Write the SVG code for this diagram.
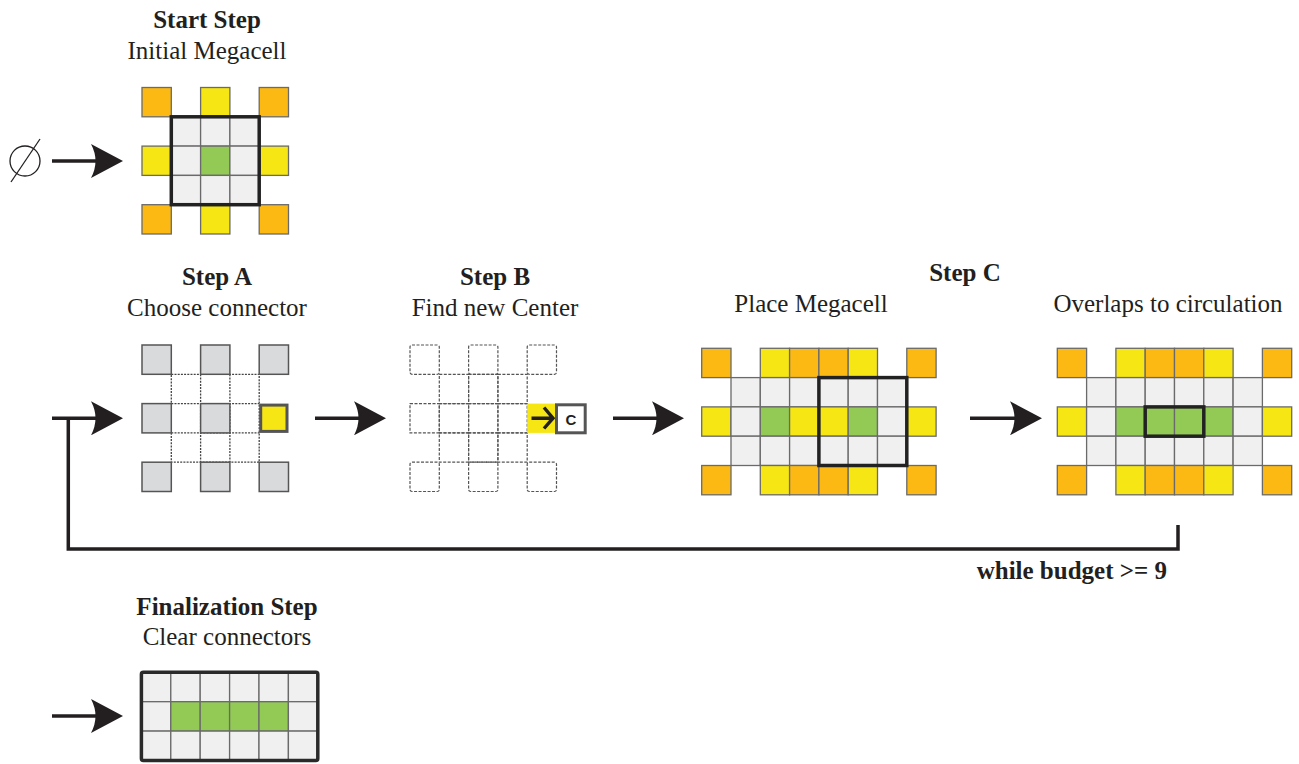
<svg xmlns="http://www.w3.org/2000/svg" width="1299" height="764" viewBox="0 0 1299 764">
<style>
.o{fill:#FDB913;stroke:#6a6a6a;stroke-width:1.3}
.y{fill:#F5E614;stroke:#6a6a6a;stroke-width:1.3}
.g{fill:#F0F0F0;stroke:#6a6a6a;stroke-width:1.3}
.gr{fill:#93C955;stroke:#6a6a6a;stroke-width:1.3}
.d{fill:#D9DADC;stroke:#555;stroke-width:1.5}
.thick{fill:none;stroke:#222;stroke-width:3.5}
.dot{fill:none;stroke:#444;stroke-width:1.3;stroke-dasharray:2 1.2}
.dash{fill:none;stroke:#555;stroke-width:1.2;stroke-dasharray:3 1.5}
.t{font-family:"Liberation Serif","Times New Roman",serif;font-size:25px;fill:#231f20;text-anchor:middle}
.b{font-weight:bold}
.conn{fill:none;stroke:#231f20;stroke-width:3.5}
</style>
<defs>
<marker id="ah" markerUnits="userSpaceOnUse" viewBox="0 0 32 34" markerWidth="32" markerHeight="34" refX="19" refY="17" orient="auto">
<path d="M32,17 L0,0 Q9,17 0,34 Z" fill="#231f20"/>
</marker>
</defs>

<g id="labels">
<text class="t b" x="207" y="28">Start Step</text>
<text class="t" x="207" y="59">Initial Megacell</text>
<text class="t b" x="217" y="285">Step A</text>
<text class="t" x="217" y="316">Choose connector</text>
<text class="t b" x="495" y="285">Step B</text>
<text class="t" x="495" y="316">Find new Center</text>
<text class="t b" x="965" y="281">Step C</text>
<text class="t" x="811" y="312">Place Megacell</text>
<text class="t" x="1168" y="312">Overlaps to circulation</text>
<text class="t b" x="227" y="615">Finalization Step</text>
<text class="t" x="227" y="645">Clear connectors</text>
<text class="t b" x="1167" y="579" style="text-anchor:end">while budget &gt;= 9</text>
</g>

<g id="emptyset" fill="none" stroke="#231f20" stroke-width="1.3">
<circle cx="25" cy="161" r="15"/>
<line x1="11" y1="182" x2="40" y2="139"/>
</g>

<g id="start">
<rect class="o" x="142" y="87.5" width="29.3" height="29.3"/>
<rect class="y" x="200.6" y="87.5" width="29.3" height="29.3"/>
<rect class="o" x="259.2" y="87.5" width="29.3" height="29.3"/>
<rect class="g" x="171.3" y="116.8" width="29.3" height="29.3"/>
<rect class="g" x="200.6" y="116.8" width="29.3" height="29.3"/>
<rect class="g" x="229.9" y="116.8" width="29.3" height="29.3"/>
<rect class="y" x="142" y="146.1" width="29.3" height="29.3"/>
<rect class="g" x="171.3" y="146.1" width="29.3" height="29.3"/>
<rect class="gr" x="200.6" y="146.1" width="29.3" height="29.3"/>
<rect class="g" x="229.9" y="146.1" width="29.3" height="29.3"/>
<rect class="y" x="259.2" y="146.1" width="29.3" height="29.3"/>
<rect class="g" x="171.3" y="175.4" width="29.3" height="29.3"/>
<rect class="g" x="200.6" y="175.4" width="29.3" height="29.3"/>
<rect class="g" x="229.9" y="175.4" width="29.3" height="29.3"/>
<rect class="o" x="142" y="204.7" width="29.3" height="29.3"/>
<rect class="y" x="200.6" y="204.7" width="29.3" height="29.3"/>
<rect class="o" x="259.2" y="204.7" width="29.3" height="29.3"/>
<rect class="thick" x="171.3" y="116.8" width="87.9" height="87.9"/>
</g>

<g id="stepA">
<rect class="dot" x="171.3" y="374.3" width="87.9" height="87.9"/>
<path class="dot" d="M200.6,374.3V462.2M229.9,374.3V462.2M171.3,403.6H259.2M171.3,432.9H259.2"/>
<rect class="d" x="142" y="345" width="29.3" height="29.3"/>
<rect class="d" x="200.6" y="345" width="29.3" height="29.3"/>
<rect class="d" x="259.2" y="345" width="29.3" height="29.3"/>
<rect class="d" x="142" y="403.6" width="29.3" height="29.3"/>
<rect class="d" x="200.6" y="403.6" width="29.3" height="29.3"/>
<rect class="d" x="142" y="462.2" width="29.3" height="29.3"/>
<rect class="d" x="200.6" y="462.2" width="29.3" height="29.3"/>
<rect class="d" x="259.2" y="462.2" width="29.3" height="29.3"/>
<rect x="260.7" y="405.1" width="26.3" height="26.3" fill="#F5E614" stroke="#555" stroke-width="3"/>
</g>

<g id="stepB">
<rect class="dash" x="410" y="345" width="29.3" height="29.3" rx="2"/>
<rect class="dash" x="468.6" y="345" width="29.3" height="29.3" rx="2"/>
<rect class="dash" x="527.2" y="345" width="29.3" height="29.3" rx="2"/>
<rect class="dash" x="439.3" y="374.3" width="29.3" height="29.3"/>
<rect class="dash" x="468.6" y="374.3" width="29.3" height="29.3"/>
<rect class="dash" x="497.9" y="374.3" width="29.3" height="29.3"/>
<rect class="dash" x="410" y="403.6" width="29.3" height="29.3"/>
<rect class="dash" x="439.3" y="403.6" width="29.3" height="29.3"/>
<rect class="dash" x="468.6" y="403.6" width="29.3" height="29.3"/>
<rect class="dash" x="497.9" y="403.6" width="29.3" height="29.3"/>
<rect class="dash" x="439.3" y="432.9" width="29.3" height="29.3"/>
<rect class="dash" x="468.6" y="432.9" width="29.3" height="29.3"/>
<rect class="dash" x="497.9" y="432.9" width="29.3" height="29.3"/>
<rect class="dash" x="410" y="462.2" width="29.3" height="29.3" rx="2"/>
<rect class="dash" x="468.6" y="462.2" width="29.3" height="29.3" rx="2"/>
<rect class="dash" x="527.2" y="462.2" width="29.3" height="29.3" rx="2"/>
<rect x="527.2" y="403.6" width="28.5" height="29.3" fill="#F5E614"/>
<path d="M531.5,418.2H551M544,407.5L553,418.2L544,428.5" fill="none" stroke="#231f20" stroke-width="3.4"/>
<rect x="556.5" y="404.8" width="28.7" height="28" fill="#fff" stroke="#555" stroke-width="3"/>
<text x="570.8" y="424.5" font-family="Liberation Sans, Arial, sans-serif" font-size="15" font-weight="bold" text-anchor="middle" fill="#231f20">C</text>
</g>

<g id="placeMegacell">
<rect class="o" x="701.7" y="348.3" width="29.3" height="29.3"/>
<rect class="y" x="760.3" y="348.3" width="29.3" height="29.3"/>
<rect class="o" x="789.6" y="348.3" width="29.3" height="29.3"/>
<rect class="o" x="818.9" y="348.3" width="29.3" height="29.3"/>
<rect class="y" x="848.2" y="348.3" width="29.3" height="29.3"/>
<rect class="o" x="906.8" y="348.3" width="29.3" height="29.3"/>
<rect class="g" x="731" y="377.6" width="29.3" height="29.3"/>
<rect class="g" x="760.3" y="377.6" width="29.3" height="29.3"/>
<rect class="g" x="789.6" y="377.6" width="29.3" height="29.3"/>
<rect class="g" x="818.9" y="377.6" width="29.3" height="29.3"/>
<rect class="g" x="848.2" y="377.6" width="29.3" height="29.3"/>
<rect class="g" x="877.5" y="377.6" width="29.3" height="29.3"/>
<rect class="y" x="701.7" y="406.9" width="29.3" height="29.3"/>
<rect class="g" x="731" y="406.9" width="29.3" height="29.3"/>
<rect class="gr" x="760.3" y="406.9" width="29.3" height="29.3"/>
<rect class="y" x="789.6" y="406.9" width="29.3" height="29.3"/>
<rect class="y" x="818.9" y="406.9" width="29.3" height="29.3"/>
<rect class="gr" x="848.2" y="406.9" width="29.3" height="29.3"/>
<rect class="g" x="877.5" y="406.9" width="29.3" height="29.3"/>
<rect class="y" x="906.8" y="406.9" width="29.3" height="29.3"/>
<rect class="g" x="731" y="436.2" width="29.3" height="29.3"/>
<rect class="g" x="760.3" y="436.2" width="29.3" height="29.3"/>
<rect class="g" x="789.6" y="436.2" width="29.3" height="29.3"/>
<rect class="g" x="818.9" y="436.2" width="29.3" height="29.3"/>
<rect class="g" x="848.2" y="436.2" width="29.3" height="29.3"/>
<rect class="g" x="877.5" y="436.2" width="29.3" height="29.3"/>
<rect class="o" x="701.7" y="465.5" width="29.3" height="29.3"/>
<rect class="y" x="760.3" y="465.5" width="29.3" height="29.3"/>
<rect class="o" x="789.6" y="465.5" width="29.3" height="29.3"/>
<rect class="o" x="818.9" y="465.5" width="29.3" height="29.3"/>
<rect class="y" x="848.2" y="465.5" width="29.3" height="29.3"/>
<rect class="o" x="906.8" y="465.5" width="29.3" height="29.3"/>
<rect class="thick" x="818.9" y="377.6" width="87.9" height="87.9"/>
</g>

<g id="overlaps">
<rect class="o" x="1057.3" y="348.3" width="29.3" height="29.3"/>
<rect class="y" x="1115.9" y="348.3" width="29.3" height="29.3"/>
<rect class="o" x="1145.2" y="348.3" width="29.3" height="29.3"/>
<rect class="o" x="1174.5" y="348.3" width="29.3" height="29.3"/>
<rect class="y" x="1203.8" y="348.3" width="29.3" height="29.3"/>
<rect class="o" x="1262.4" y="348.3" width="29.3" height="29.3"/>
<rect class="g" x="1086.6" y="377.6" width="29.3" height="29.3"/>
<rect class="g" x="1115.9" y="377.6" width="29.3" height="29.3"/>
<rect class="g" x="1145.2" y="377.6" width="29.3" height="29.3"/>
<rect class="g" x="1174.5" y="377.6" width="29.3" height="29.3"/>
<rect class="g" x="1203.8" y="377.6" width="29.3" height="29.3"/>
<rect class="g" x="1233.1" y="377.6" width="29.3" height="29.3"/>
<rect class="y" x="1057.3" y="406.9" width="29.3" height="29.3"/>
<rect class="g" x="1086.6" y="406.9" width="29.3" height="29.3"/>
<rect class="gr" x="1115.9" y="406.9" width="29.3" height="29.3"/>
<rect class="gr" x="1145.2" y="406.9" width="29.3" height="29.3"/>
<rect class="gr" x="1174.5" y="406.9" width="29.3" height="29.3"/>
<rect class="gr" x="1203.8" y="406.9" width="29.3" height="29.3"/>
<rect class="g" x="1233.1" y="406.9" width="29.3" height="29.3"/>
<rect class="y" x="1262.4" y="406.9" width="29.3" height="29.3"/>
<rect class="g" x="1086.6" y="436.2" width="29.3" height="29.3"/>
<rect class="g" x="1115.9" y="436.2" width="29.3" height="29.3"/>
<rect class="g" x="1145.2" y="436.2" width="29.3" height="29.3"/>
<rect class="g" x="1174.5" y="436.2" width="29.3" height="29.3"/>
<rect class="g" x="1203.8" y="436.2" width="29.3" height="29.3"/>
<rect class="g" x="1233.1" y="436.2" width="29.3" height="29.3"/>
<rect class="o" x="1057.3" y="465.5" width="29.3" height="29.3"/>
<rect class="y" x="1115.9" y="465.5" width="29.3" height="29.3"/>
<rect class="o" x="1145.2" y="465.5" width="29.3" height="29.3"/>
<rect class="o" x="1174.5" y="465.5" width="29.3" height="29.3"/>
<rect class="y" x="1203.8" y="465.5" width="29.3" height="29.3"/>
<rect class="o" x="1262.4" y="465.5" width="29.3" height="29.3"/>
<rect class="thick" x="1145.2" y="406.9" width="58.6" height="29.3"/>
</g>

<g id="finalization">
<rect class="g" x="141.4" y="672.3" width="29.4" height="29.4"/>
<rect class="g" x="170.8" y="672.3" width="29.4" height="29.4"/>
<rect class="g" x="200.2" y="672.3" width="29.4" height="29.4"/>
<rect class="g" x="229.6" y="672.3" width="29.4" height="29.4"/>
<rect class="g" x="259" y="672.3" width="29.4" height="29.4"/>
<rect class="g" x="288.4" y="672.3" width="29.4" height="29.4"/>
<rect class="g" x="141.4" y="701.7" width="29.4" height="29.4"/>
<rect class="gr" x="170.8" y="701.7" width="29.4" height="29.4"/>
<rect class="gr" x="200.2" y="701.7" width="29.4" height="29.4"/>
<rect class="gr" x="229.6" y="701.7" width="29.4" height="29.4"/>
<rect class="gr" x="259" y="701.7" width="29.4" height="29.4"/>
<rect class="g" x="288.4" y="701.7" width="29.4" height="29.4"/>
<rect class="g" x="141.4" y="731.1" width="29.4" height="29.4"/>
<rect class="g" x="170.8" y="731.1" width="29.4" height="29.4"/>
<rect class="g" x="200.2" y="731.1" width="29.4" height="29.4"/>
<rect class="g" x="229.6" y="731.1" width="29.4" height="29.4"/>
<rect class="g" x="259" y="731.1" width="29.4" height="29.4"/>
<rect class="g" x="288.4" y="731.1" width="29.4" height="29.4"/>
<rect x="141.4" y="672.3" width="176.4" height="88.2" rx="2" fill="none" stroke="#2a2a2a" stroke-width="3.5"/>
</g>

<g id="connectors">
<line class="conn" x1="52" y1="161" x2="110" y2="161" marker-end="url(#ah)"/>
<line class="conn" x1="52" y1="418.3" x2="110" y2="418.3" marker-end="url(#ah)"/>
<line class="conn" x1="315" y1="418.3" x2="373" y2="418.3" marker-end="url(#ah)"/>
<line class="conn" x1="613" y1="418.3" x2="671" y2="418.3" marker-end="url(#ah)"/>
<line class="conn" x1="970" y1="418.3" x2="1029" y2="418.3" marker-end="url(#ah)"/>
<line class="conn" x1="52" y1="716" x2="110" y2="716" marker-end="url(#ah)"/>
<path class="conn" d="M68.3,418.3V549H1178V525"/>
</g>
</svg>
